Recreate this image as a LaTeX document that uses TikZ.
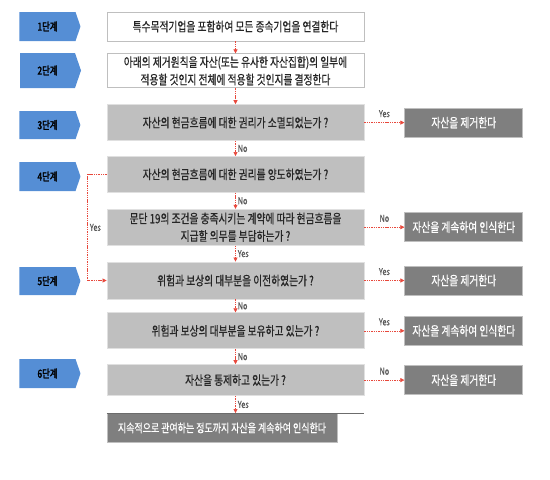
\documentclass[tikz,border=0pt]{standalone}
\usepackage{fontspec}
\setmainfont{Noto Sans CJK KR}[FakeStretch=0.76, FakeBold=0.6]
\newfontfamily\tagfont{Noto Sans CJK KR}[FakeStretch=0.76, FakeBold=2.2]
\usetikzlibrary{positioning,arrows.meta,shapes.symbols}

\definecolor{stepblue}{RGB}{85,142,213}
\definecolor{askgray}{RGB}{191,191,191}
\definecolor{endgray}{RGB}{127,127,127}
\definecolor{flowred}{RGB}{232,72,60}
\definecolor{answergray}{RGB}{89,89,89}

\begin{document}
\begin{tikzpicture}[
         x=1pt, y=-1pt,
         steptag/.style = {signal, signal to=east, signal pointer angle=142,
         fill=stepblue, minimum width=61pt, minimum height=29pt, inner sep=0pt,
         font=\tagfont\fontsize{11}{12}\selectfont},
         plainbox/.style = {draw=askgray, fill=white, line width=0.8pt,
         minimum width=257pt, inner sep=0pt, align=center,
         font=\fontsize{12.8}{17.5}\selectfont, text=black!85},
         askbox/.style = {plainbox, draw=white!88!black, fill=askgray},
         endbox/.style = {draw=white!75!black, fill=endgray, line width=0.8pt,
         minimum width=118pt, minimum height=29pt, inner sep=0pt,
         font=\fontsize{12.8}{17}\selectfont, text=white},
         flow/.style = {draw=flowred, line width=0.6pt, dash pattern=on 1.4pt off 0.9pt,
         -{Triangle[length=4pt,width=4pt]}},
         answer/.style = {font=\fontsize{9.5}{10}\selectfont, text=answergray, inner sep=2pt}
]

         \useasboundingbox (0,0) rectangle (550,480);

         % question column
         \node[plainbox, minimum height=29pt] (b1) at (235.5,26.5)
               {특수목적기업을 포함하여 모든 종속기업을 연결한다};
         \node[plainbox, minimum height=34pt, below=12pt of b1] (b2)
               {아래의 제거원칙을 자산(또는 유사한 자산집합)의 일부에\\
                적용할 것인지 전체에 적용할 것인지를 결정한다};
         \node[askbox, minimum height=36pt, below=16pt of b2] (b3)
               {자산의 현금흐름에 대한 권리가 소멸되었는가 ?};
         \node[askbox, minimum height=36pt, below=15pt of b3] (b4)
               {자산의 현금흐름에 대한 권리를 양도하였는가 ?};
         \node[askbox, minimum height=36pt, below=16pt of b4] (b5)
               {문단 19의 조건을 충족시키는 계약에 따라 현금흐름을\\
                지급할 의무를 부담하는가 ?};
         \node[askbox, minimum height=37pt, below=16pt of b5] (b6)
               {위험과 보상의 대부분을 이전하였는가 ?};
         \node[askbox, minimum height=36pt, below=13pt of b6] (b7)
               {위험과 보상의 대부분을 보유하고 있는가 ?};
         \node[askbox, minimum height=31pt, below=15pt of b7] (b8)
               {자산을 통제하고 있는가 ?};
         \node[endbox, minimum width=230pt, font=\fontsize{11.8}{14}\selectfont,
               below right=17pt and 0pt of b8.south west] (fin)
               {지속적으로 관여하는 정도까지 자산을 계속하여 인식한다};
         \draw[endgray!85!black, line width=0.8pt] (fin.north west) -- (fin.north west -| b8.east);

         % outcomes
         \node[endbox, right=40pt of b3] (r3) {자산을 제거한다};
         \node[endbox, right=40pt of b5] (r5) {자산을 계속하여 인식한다};
         \node[endbox, right=40pt of b6] (r6) {자산을 제거한다};
         \node[endbox, right=40pt of b7] (r7) {자산을 계속하여 인식한다};
         \node[endbox, right=40pt of b8] (r8) {자산을 제거한다};

         % step tags
         \node[steptag] (s1) at (47.5,26.5) {1단계};
         \node[steptag, minimum height=35pt] (s2) at (47.5,70.5) {2단계};
         \node[steptag, minimum height=28pt] (s3) at (47.5,125) {3단계};
         \node[steptag] (s4) at (47.5,176.5) {4단계};
         \node[steptag, minimum height=28pt] (s5) at (47.5,281) {5단계};
         \node[steptag] (s6) at (47.5,373.5) {6단계};

         % downward flow
         \draw[flow] (b1) -- (b2);
         \draw[flow] (b2) -- (b3);
         \draw[flow] (b3) -- node[answer, right] {No} (b4);
         \draw[flow] (b4) -- node[answer, right] {No} (b5);
         \draw[flow] (b5) -- node[answer, right] {Yes} (b6);
         \draw[flow] (b6) -- node[answer, right] {No} (b7);
         \draw[flow] (b7) -- node[answer, right] {No} (b8);
         \draw[flow] (b8.south) -- node[answer, right] {Yes} (b8.south |- fin.north);

         % sideways flow
         \draw[flow] (b3) -- node[answer, above=3pt] {Yes} (r3);
         \draw[flow] (b5) -- node[answer, above=3pt] {No} (r5);
         \draw[flow] (b6) -- node[answer, above=3pt] {Yes} (r6);
         \draw[flow] (b7) -- node[answer, above=3pt] {Yes} (r7);
         \draw[flow] (b8) -- node[answer, above=3pt] {No} (r8);

         % transfer loop
         \draw[flow] (b4.west) -- ++(-19,0) |- node[answer, right, pos=0.25] {Yes} (b6.west);

\end{tikzpicture}
\end{document}
